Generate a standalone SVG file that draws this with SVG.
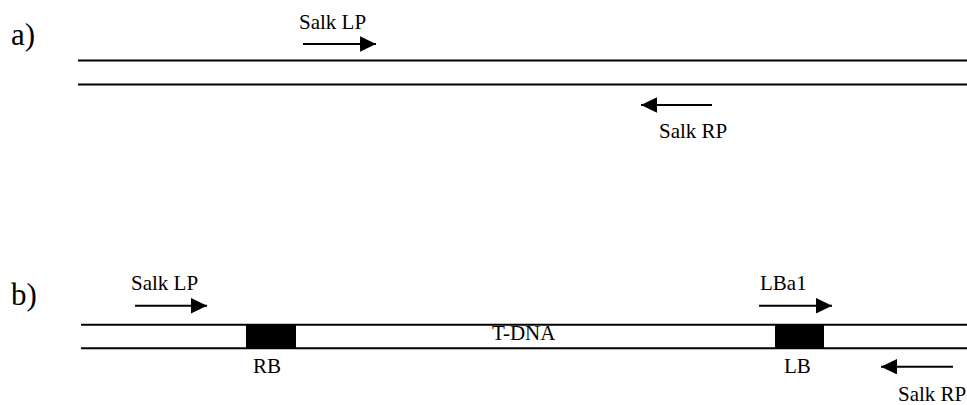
<svg xmlns="http://www.w3.org/2000/svg" width="967" height="405" viewBox="0 0 967 405" font-family="'Liberation Serif', 'Times New Roman', 'DejaVu Serif', serif">
<style>
text{font-family:'Liberation Serif','Times New Roman','DejaVu Serif',serif;fill:#000}
.t{font-size:21px}
.lab{font-size:31px}
.dna{stroke:#000;stroke-width:2;fill:none}
.arr{stroke:#000;stroke-width:2;fill:none;marker-end:url(#ah)}
</style>
<defs>
<marker id="ah" markerUnits="userSpaceOnUse" markerWidth="17" markerHeight="16" refX="16" refY="7.75" orient="auto">
<path d="M0,0 L16,7.75 L0,15.5 z" fill="#000"/>
</marker>
</defs>
<rect width="967" height="405" fill="#fff"/>
<g id="panel-a">
<text class="lab" x="11" y="44.5">a)</text>
<g id="dna-a">
<line class="dna" x1="78" y1="60.5" x2="967" y2="60.5"/>
<line class="dna" x1="78" y1="84.5" x2="967" y2="84.5"/>
</g>
<g id="salk-lp-a"><text class="t" x="299" y="29">Salk LP</text></g>
<g id="salk-rp-a"><text class="t" x="659" y="138">Salk RP</text></g>
</g>
<g id="panel-b">
<text class="lab" x="11" y="304.5">b)</text>
<g id="dna-b">
<line class="dna" x1="81" y1="324.7" x2="967" y2="324.7"/>
<line class="dna" x1="81" y1="348.3" x2="967" y2="348.3"/>
</g>
<g id="rb"><rect x="246" y="324" width="50" height="25" fill="#000"/><text class="t" x="253" y="372.7">RB</text></g>
<g id="lb"><rect x="775" y="324" width="49" height="25" fill="#000"/><text class="t" x="784" y="372.7">LB</text></g>
<g id="tdna"><text class="t" x="492" y="339.5">T-DNA</text></g>
<g id="salk-lp-b"><text class="t" x="131" y="290">Salk LP</text></g>
<g id="lba1"><text class="t" x="760" y="290">LBa1</text></g>
<g id="salk-rp-b"><text class="t" x="898" y="401">Salk RP</text></g>
</g>
<g id="connectors">
<line class="arr" x1="303" y1="44" x2="376" y2="44"/>
<line class="arr" x1="712" y1="105" x2="641" y2="105"/>
<line class="arr" x1="135" y1="305.7" x2="207" y2="305.7"/>
<line class="arr" x1="759" y1="305.7" x2="832" y2="305.7"/>
<line class="arr" x1="953" y1="366.7" x2="881" y2="366.7"/>
</g>
</svg>
